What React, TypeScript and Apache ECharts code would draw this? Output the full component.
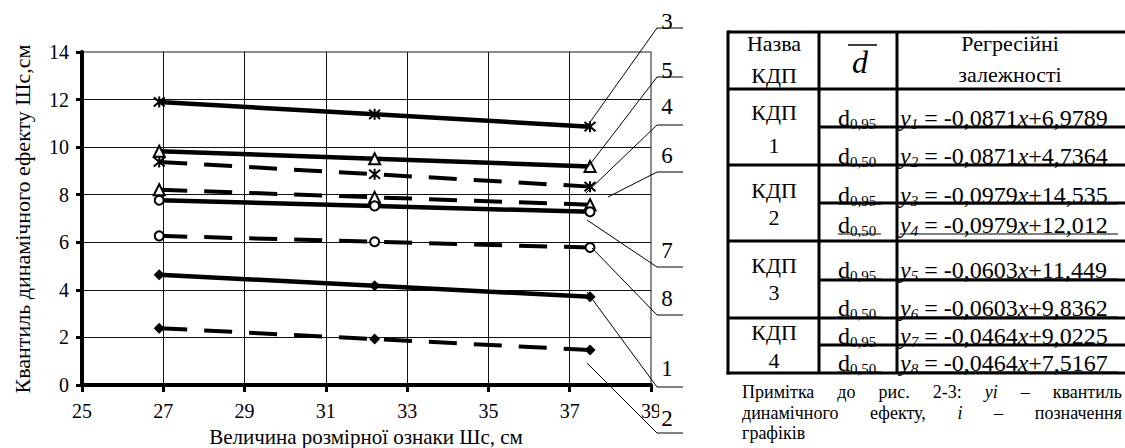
import React, { useEffect, useRef } from 'react';
import * as echarts from 'echarts';

// ---- chart data ----
const X_VALUES = [26.9, 32.2, 37.5];
const Y1 = [4.64, 4.17, 3.71];
const Y2 = [2.39, 1.93, 1.47];
const Y3 = [11.9, 11.38, 10.86];
const Y4 = [9.38, 8.86, 8.34];
const Y5 = [9.83, 9.51, 9.19];
const Y6 = [8.21, 7.89, 7.58];
const Y7 = [7.77, 7.53, 7.28];
const Y8 = [6.27, 6.02, 5.78];
const SERIES_NAMES = ['1', '2', '3', '4', '5', '6', '7', '8'];

const X_MIN = 25;
const X_MAX = 39;
const X_STEP = 2;
const Y_MIN = 0;
const Y_MAX = 14;
const Y_STEP = 2;

const Y_TITLE = 'Квантиль динамічного ефекту Шс,см';
const X_TITLE = 'Величина розмірної ознаки Шс, см';

// ---- table data ----
const KDP_GROUPS = ['1', '2', '3', '4'];
const QUANTILES = ['0,95', '0,50'];
const EQ_SLOPES = ['-0,0871', '-0,0871', '-0,0979', '-0,0979', '-0,0603', '-0,0603', '-0,0464', '-0,0464'];
const EQ_INTERCEPTS = ['+6,9789', '+4,7364', '+14,535', '+12,012', '+11,449', '+9,8362', '+9,0225', '+7,5167'];
const ANNOT_ORDER = ['3', '5', '4', '6', '7', '8', '1', '2'];

// ---- note (words; '*' prefix = italic) ----
const NOTE_LINE1 = ['Примітка', 'до', 'рис.', '2-3:', '*yi', '–', 'квантиль'];
const NOTE_LINE2 = ['динамічного', 'ефекту,', '*i', '–', 'позначення'];
const NOTE_LINE3 = ['графіків'];

const FONT = 'Liberation Serif';
const ASTERISK = 'path://M0,0L10,10M10,0L0,10M5,-1L5,11';

function App() {
  const ref = useRef<HTMLDivElement>(null);

  useEffect(() => {
    if (!ref.current) return;
    const chart = echarts.init(ref.current, undefined, { renderer: 'svg' });

    const allY = [Y1, Y2, Y3, Y4, Y5, Y6, Y7, Y8];
    const symbols = ['diamond', 'diamond', ASTERISK, ASTERISK, 'triangle', 'triangle', 'circle', 'circle'];
    const dashed = [false, true, false, true, false, true, false, true];

    const series: any[] = allY.map((ys, i) => {
      const sym = symbols[i];
      const isAst = sym === ASTERISK;
      const hollow = sym === 'triangle' || sym === 'circle';
      return {
        type: 'line',
        name: SERIES_NAMES[i],
        data: X_VALUES.map((x, k) => [x, ys[k]]),
        symbol: sym,
        symbolSize: isAst ? 11 : sym === 'diamond' ? 11 : sym === 'triangle' ? 11 : 9,
        showAllSymbol: true,
        lineStyle: {
          color: '#000',
          width: dashed[i] ? 4 : 4.5,
          type: dashed[i] ? [28, 17] : 'solid',
          cap: 'butt',
        },
        itemStyle: {
          color: hollow ? '#fff' : isAst ? 'none' : '#000',
          borderColor: '#000',
          borderWidth: isAst ? 2 : hollow ? 2 : 0,
        },
        z: 3,
      };
    });

    const g: any[] = [];
    const line = (x1: number, y1: number, x2: number, y2: number, w: number) =>
      g.push({ type: 'line', z: 100, shape: { x1, y1, x2, y2 }, style: { stroke: '#000', lineWidth: w } });
    const text = (x: number, y: number, t: string, size: number, opts: any = {}) => {
      const style: any = {
        text: t, fill: '#000', fontFamily: FONT, fontSize: size,
        align: opts.align || 'center', verticalAlign: 'middle',
      };
      if (opts.italic) style.fontStyle = 'italic';
      if (opts.rich) style.rich = opts.rich;
      const el: any = { type: 'text', z: 101, x, y, style };
      if (opts.rotation) el.rotation = opts.rotation;
      g.push(el);
    };

    const ctx = document.createElement('canvas').getContext('2d');
    const measure = (t: string, size: number, italic: boolean) => {
      if (!ctx) return t.length * size * 0.5;
      ctx.font = `${italic ? 'italic ' : ''}${size}px "${FONT}"`;
      return ctx.measureText(t).width;
    };
    const justify = (words: string[], x0: number, x1: number, y: number, size: number, full: boolean) => {
      const items = words.map((w) => ({ t: w.replace(/^\*/, ''), it: w.startsWith('*') }));
      const widths = items.map((it) => measure(it.t, size, it.it));
      const total = widths.reduce((a, b) => a + b, 0);
      const gap = full && items.length > 1 ? (x1 - x0 - total) / (items.length - 1) : size * 0.25;
      let x = x0;
      items.forEach((it, k) => {
        text(x, y, it.t, size, { align: 'left', italic: it.it });
        x += widths[k] + gap;
      });
    };

    // axis titles
    text(22, 219, Y_TITLE, 22, { rotation: Math.PI / 2 });
    text(366, 437, X_TITLE, 21);

    // annotations
    const numY = [21, 70, 106, 155, 250, 298, 368, 418];
    const ulY = [28, 77, 125, 172, 267, 315, 387, 433];
    const starts = [[588, 125], [588, 167], [586, 193], [608, 197], [587, 220], [592, 248], [587, 292], [587, 363]];
    ANNOT_ORDER.forEach((lab, i) => {
      if (lab === '2') {
        g.push({ type: 'rect', z: 99, shape: { x: 659, y: 405, width: 24, height: 24 }, style: { fill: '#fff' } });
      }
      text(667, numY[i], lab, 23);
      line(657, ulY[i], 683, ulY[i], 1);
      line(starts[i][0], starts[i][1], 657, ulY[i], 1);
    });

    // table
    const L = 728, C1 = 819, C2 = 897, R = 1126;
    const TOP = 32, HEAD = 89, BOT = 373;
    const groupBottoms = [165, 241, 318];
    const subLines = [127, 203, 280, 345];
    line(L, TOP, R, TOP, 3);
    line(L, HEAD, R, HEAD, 3);
    groupBottoms.forEach((y) => line(L, y, R, y, 3));
    line(L - 1.5, BOT, R, BOT, 3);
    subLines.forEach((y) => line(C1, y, R, y, 3));
    line(L, TOP - 1.5, L, BOT + 1.5, 3);
    line(C1, TOP, C1, BOT, 3);
    line(C2, TOP, C2, BOT, 3);

    const FS = 22;
    text(774, 43, 'Назва', FS);
    text(774, 75, 'КДП', FS);
    text(860, 62, 'd', 32, { italic: true });
    line(848, 45, 877, 45, 1.5);
    text(1010, 43, 'Регресійні', FS);
    text(1010, 74, 'залежності', FS);

    const kdpY = [112, 190, 265, 332];
    const numRowY = [145, 217, 292, 360];
    KDP_GROUPS.forEach((k, i) => {
      text(774, kdpY[i], 'КДП', FS);
      text(774, numRowY[i], k, FS);
    });

    const rowY = [115, 153, 192, 222, 267, 305, 333, 360];
    const EQ = 24;
    const richDefs = {
      r: { fontFamily: FONT, fontSize: EQ, fill: '#000', lineHeight: 26 },
      i: { fontFamily: FONT, fontSize: EQ, fontStyle: 'italic', fill: '#000', lineHeight: 26 },
      s: { fontFamily: FONT, fontSize: 15, fill: '#000', lineHeight: 15, verticalAlign: 'bottom' },
      si: { fontFamily: FONT, fontSize: 15, fontStyle: 'italic', fill: '#000', lineHeight: 15, verticalAlign: 'bottom' },
    };
    rowY.forEach((y, i) => {
      const q = QUANTILES[i % 2];
      text(838, y + 3, `{r|d}{s|${q}}`, EQ, { align: 'left', rich: richDefs });
      line(838, y + 12, 881, y + 12, 1);
      text(900, y + 3, `{i|y}{si|${i + 1}}{r| = ${EQ_SLOPES[i]}}{i|x}{r|${EQ_INTERCEPTS[i]}}`, EQ, { align: 'left', rich: richDefs });
      line(900, y + 12, 1118, y + 12, 1);
    });

    // note, justified between the table edges
    const NS = 18;
    justify(NOTE_LINE1, 742, 1122, 392, NS, true);
    justify(NOTE_LINE2, 742, 1122, 413, NS, true);
    justify(NOTE_LINE3, 742, 1122, 433, NS, false);

    chart.setOption({
      animation: false,
      backgroundColor: '#fff',
      grid: {
        left: 82, right: 1125 - 651, top: 52, bottom: 448 - 385,
        show: true, borderColor: '#8c8c8c', borderWidth: 2, backgroundColor: 'transparent',
      },
      xAxis: {
        type: 'value', min: X_MIN, max: X_MAX, interval: X_STEP,
        axisLine: { show: true, onZero: false, lineStyle: { color: '#000', width: 4 } },
        axisTick: { show: true, length: 7, lineStyle: { color: '#000', width: 3 } },
        axisLabel: { color: '#000', fontFamily: FONT, fontSize: 20, margin: 16 },
        splitLine: { show: true, showMaxLine: false, lineStyle: { color: '#111', width: 1 } },
      },
      yAxis: {
        type: 'value', min: Y_MIN, max: Y_MAX, interval: Y_STEP,
        axisLine: { show: true, lineStyle: { color: '#000', width: 4 } },
        axisTick: { show: true, length: 6, lineStyle: { color: '#000', width: 3 } },
        axisLabel: { color: '#000', fontFamily: FONT, fontSize: 20, margin: 13 },
        splitLine: { show: true, showMaxLine: false, lineStyle: { color: '#111', width: 1 } },
      },
      series,
      graphic: g,
    });

    return () => chart.dispose();
  }, []);

  return (
    <div
      ref={ref}
      style={{ position: 'fixed', left: 0, top: 0, width: 1125, height: 448, background: '#fff' }}
    />
  );
}

export default App;
